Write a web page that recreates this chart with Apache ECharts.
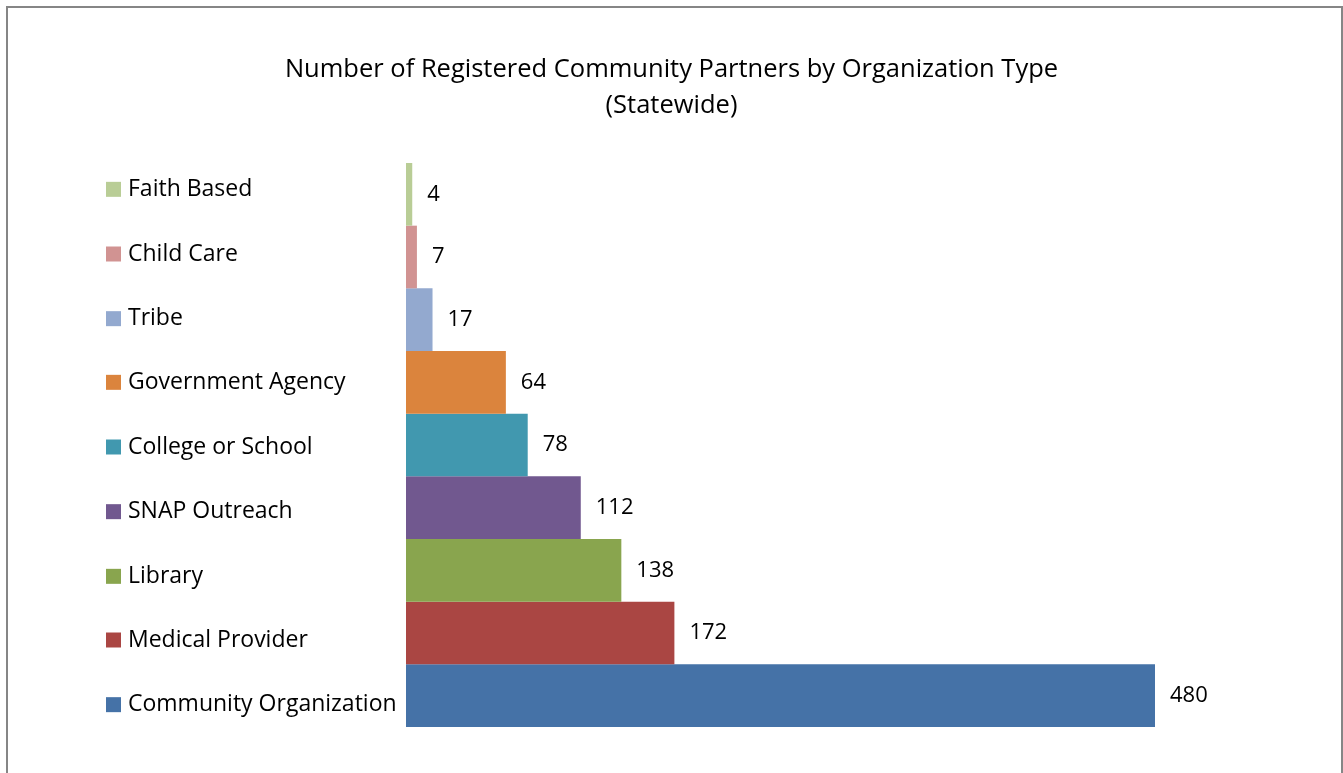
<!DOCTYPE html>
<html>
<head>
<meta charset="utf-8">
<script src="https://cdn.jsdelivr.net/npm/echarts@6/dist/echarts.min.js"></script>
<style>
  html, body { margin: 0; padding: 0; background: #fff; }
  #partnerChart { width: 1343px; height: 773px; }
</style>
</head>
<body>
<div id="partnerChart"></div>
<script>
// bottom to top, as ECharts draws a category y axis
const categories = ['Community Organization', 'Medical Provider', 'Library', 'SNAP Outreach',
  'College or School', 'Government Agency', 'Tribe', 'Child Care', 'Faith Based']
const partnerCounts = [480, 172, 138, 112, 78, 64, 17, 7, 4]
const barColors = ['#4572A7', '#AA4643', '#89A54E', '#71588F', '#4198AF',
  '#DB843D', '#93A9CF', '#D19392', '#B9CD96']

const font = '"Open Sans", "Noto Sans", sans-serif'

const rich = { txt: { fontFamily: font, fontSize: 23, color: '#000', padding: [0, 0, 0, 7] } }
barColors.forEach((c, i) => {
  rich['sq' + i] = { width: 15, height: 15, backgroundColor: c }
})

// in the original the legend-like labels are spaced a little wider than the bars,
// so each label gets a small vertical nudge
const yData = categories.map((name, i) => {
  const off = Math.round(9 - 1.75 * i)
  return {
    value: name,
    textStyle: {
      align: 'left',
      padding: off >= 0 ? [2 * off, 0, 0, 0] : [0, 0, -2 * off, 0]
    }
  }
})

const chart = echarts.init(document.getElementById('partnerChart'))
chart.setOption({
  animation: false,
  graphic: [{
    type: 'rect',
    shape: { x: 7, y: 7, width: 1335, height: 800 },
    style: { fill: 'none', stroke: '#868686', lineWidth: 2 }
  }],
  title: {
    text: 'Number of Registered Community Partners by Organization Type\n(Statewide)',
    left: 'center',
    top: 47,
    textStyle: { fontFamily: font, fontSize: 25.5, fontWeight: 'normal', color: '#000', lineHeight: 36 }
  },
  grid: { left: 406, right: 188, top: 163, bottom: 46, containLabel: false },
  xAxis: {
    type: 'value',
    min: 0,
    max: 480,
    show: false
  },
  yAxis: {
    type: 'category',
    data: yData,
    axisLine: { show: false },
    axisTick: { show: false },
    axisLabel: {
      align: 'left',
      margin: 300,
      formatter: (val, idx) => '{sq' + idx + '|}{txt|' + val + '}',
      rich: rich
    }
  },
  series: [{
    type: 'bar',
    barCategoryGap: 0,
    data: partnerCounts.map((v, i) => ({ value: v, itemStyle: { color: barColors[i] } })),
    label: {
      show: true,
      position: 'right',
      distance: 15,
      fontFamily: font,
      fontSize: 22,
      color: '#000'
    }
  }]
})
</script>
</body>
</html>
